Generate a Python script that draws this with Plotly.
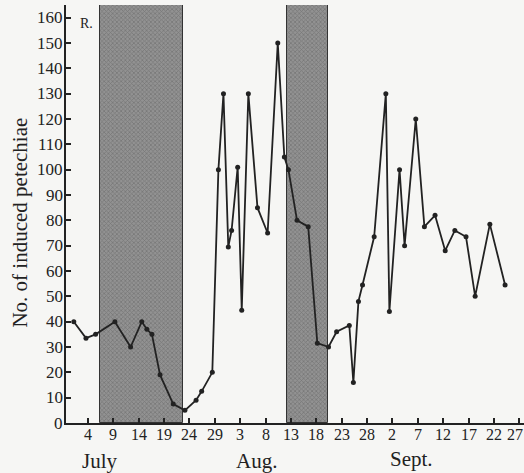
import plotly.graph_objects as go

# Day index counted from June 30 (July 1 = 1, Aug 1 = 32, Sept 1 = 63)
days = [1.2, 3.6, 5.5, 9.3, 12.4, 14.6, 15.6, 16.6, 18.2, 20.8, 23.1, 25.3, 26.4, 28.5,
        29.7, 30.7, 31.65, 32.3, 33.5, 34.3, 35.6, 37.4, 39.4, 41.4, 42.7, 43.5, 45.2,
        47.4, 49.2, 51.4, 53.0, 55.5, 56.3, 57.3, 58.1, 60.4, 62.7, 63.4, 65.4, 66.4,
        68.6, 70.3, 72.4, 74.4, 76.3, 78.5, 80.3, 83.2, 86.2]
petechiae = [40, 33.5, 35, 40, 30, 40, 37, 35, 19, 7.5, 5, 9, 12.5, 20,
             100, 130, 69.5, 76, 101, 44.5, 130, 85, 75, 150, 105, 100, 80,
             77.5, 31.5, 30, 36, 38.5, 16, 48, 54.5, 73.5, 130, 44, 100, 70,
             120, 77.5, 82, 68, 76, 73.5, 50, 78.5, 54.5]

tick_days = list(range(4, 90, 5))
tick_labels = ["4", "9", "14", "19", "24", "29", "3", "8", "13", "18", "23", "28",
               "2", "7", "12", "17", "22", "27"]
y_ticks = list(range(0, 161, 10))

months = ["July", "Aug.", "Sept."]
month_pos = [6.4, 37.2, 67.8]
month_y = [-0.092, -0.092, -0.085]

shade_start = [6.37, 43.16]
shade_end = [22.78, 51.24]
y_top = 165

SERIF = "Liberation Serif"
INK = "#222"

fig = go.Figure()

fig.add_trace(go.Bar(
    x=[(s + e) / 2 for s, e in zip(shade_start, shade_end)],
    y=[y_top] * len(shade_start),
    width=[e - s for s, e in zip(shade_start, shade_end)],
    marker=dict(color="#8c8c8c", line=dict(color="#333", width=1),
                pattern=dict(shape="x", fgcolor="#5c5c5c", bgcolor="#929292",
                             size=3, solidity=0.45)),
    hoverinfo="skip", showlegend=False,
))

fig.add_trace(go.Scatter(
    x=days, y=petechiae, mode="lines+markers",
    line=dict(color=INK, width=1.8),
    marker=dict(color=INK, size=5),
    showlegend=False,
))

# tick labels (serif, as in the printed original)
for i, (d, lab) in enumerate(zip(tick_days, tick_labels)):
    fig.add_annotation(x=d, y=0, xref="x", yref="paper", text=lab, showarrow=False,
                       font=dict(family=SERIF, size=16, color=INK),
                       xanchor="center", yanchor="top", yshift=-1,
                       xshift=-4 if i == len(tick_days) - 1 else 0)
for v in y_ticks:
    fig.add_annotation(x=0, y=v, xref="paper", yref="y", text=str(v), showarrow=False,
                       font=dict(family=SERIF, size=17, color=INK),
                       xanchor="right", yanchor="middle", xshift=-1)

for m, p, yy in zip(months, month_pos, month_y):
    fig.add_annotation(x=p, y=yy, xref="x", yref="paper", text=m, showarrow=False,
                       font=dict(family=SERIF, size=21, color=INK),
                       xanchor="center", yanchor="middle")

fig.add_annotation(x=-0.1, y=0.48, xref="paper", yref="paper",
                   text="No. of induced petechiae", textangle=-90, showarrow=False,
                   font=dict(family=SERIF, size=21, color=INK),
                   xanchor="center", yanchor="middle")

fig.add_annotation(x=0.026, y=0.955, xref="paper", yref="paper", text="R.",
                   showarrow=False, font=dict(family=SERIF, size=14, color=INK),
                   xanchor="left", yanchor="middle")

fig.update_layout(
    width=524, height=473,
    margin=dict(l=66, r=0, t=5, b=50),
    font=dict(family=SERIF, color=INK),
    paper_bgcolor="#f6f6f4", plot_bgcolor="#f6f6f4",
    bargap=0,
    xaxis=dict(range=[-0.336, 89.93], tickvals=tick_days, showticklabels=False,
               ticks="inside", ticklen=5, tickcolor=INK, tickwidth=1.5,
               showline=True, linecolor=INK, linewidth=2,
               showgrid=False, zeroline=False),
    yaxis=dict(range=[0, y_top], tickvals=y_ticks, showticklabels=False,
               ticks="inside", ticklen=5, tickcolor=INK, tickwidth=1.5,
               showline=True, linecolor=INK, linewidth=2,
               showgrid=False, zeroline=False),
)

fig.write_html("out.html")
